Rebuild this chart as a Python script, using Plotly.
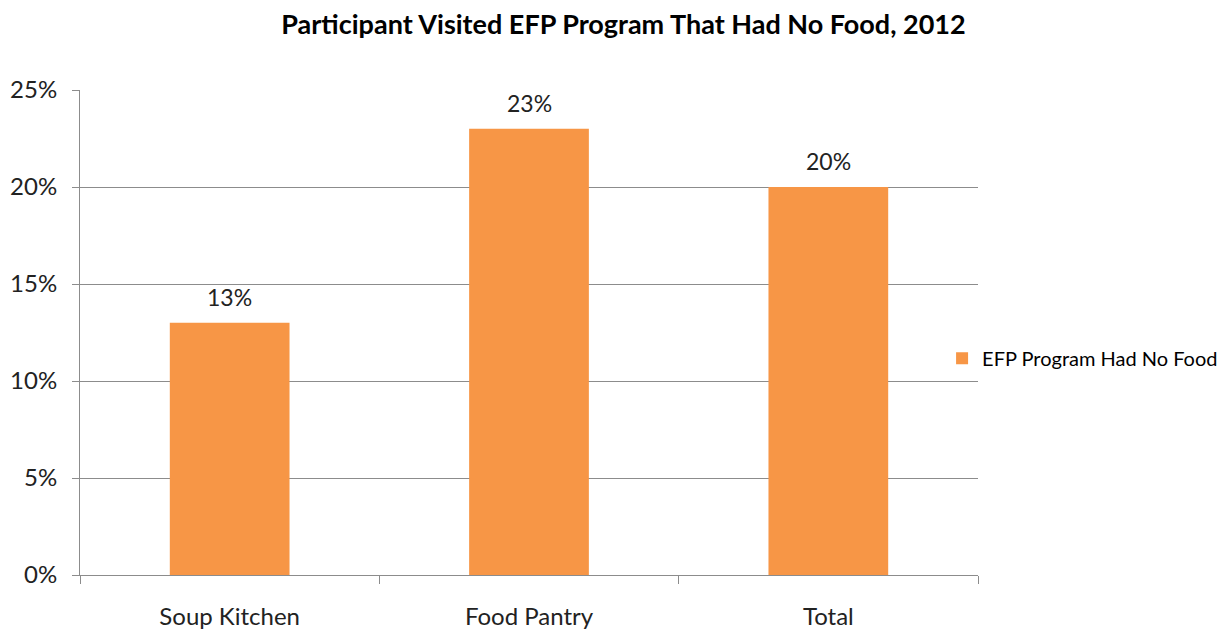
import plotly.graph_objects as go

categories = ['Soup Kitchen', 'Food Pantry', 'Total']
no_food_share = [0.13, 0.23, 0.20]
series_name = 'EFP Program Had No Food'
bar_labels = ['13%', '23%', '20%']

font_family = 'Lato, "Open Sans", sans-serif'
grid_color = '#8c8c8c'

fig = go.Figure()
fig.add_trace(go.Bar(
    x=categories, y=no_food_share, name=series_name,
    marker=dict(color='#f79646', line=dict(width=0)),
    width=0.4,
))

# value labels sit well above the bar tops, as in the original
for cat, val, lab in zip(categories, no_food_share, bar_labels):
    fig.add_annotation(x=cat, y=val, text=lab, showarrow=False,
                       yanchor='middle', yshift=26,
                       font=dict(size=23, color='#222222', family=font_family))

fig.update_layout(
    width=1231, height=633,
    margin=dict(l=72, r=261, t=82, b=66, autoexpand=False),
    paper_bgcolor='white', plot_bgcolor='white',
    font=dict(family=font_family, color='#222222'),
    title=dict(text='<b>Participant Visited EFP Program That Had No Food, 2012</b>',
               x=0.5, xanchor='center', y=0.974, yanchor='middle',
               font=dict(size=27, color='black')),
    showlegend=True,
    legend=dict(x=0.96, xanchor='left', y=0.447, yanchor='middle',
                font=dict(size=20, color='black'), bgcolor='rgba(0,0,0,0)',
                itemwidth=30),
)
fig.update_yaxes(range=[0, 0.25], dtick=0.05, tickformat='.0%',
                 showgrid=True, gridcolor=grid_color, gridwidth=1,
                 showline=True, linecolor=grid_color, linewidth=1,
                 ticks='outside', ticklen=7, tickcolor=grid_color,
                 ticklabelstandoff=10,
                 tickfont=dict(size=24, color='#222222'), zeroline=False)
fig.update_xaxes(showline=True, linecolor=grid_color, linewidth=1,
                 ticks='outside', ticklen=8, tickcolor=grid_color,
                 tickson='boundaries', ticklabelstandoff=20,
                 tickfont=dict(size=24, color='#222222'))

fig.write_html('out.html')
